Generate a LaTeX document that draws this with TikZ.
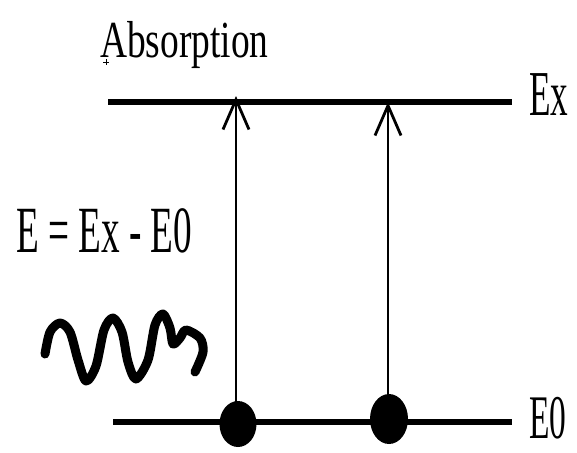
\documentclass[tikz,border=0pt]{standalone}
\usepackage{fontspec}
\setmainfont{Liberation Serif}
\usetikzlibrary{arrows.meta}
\tikzset{
  level/.style={line width=5.5pt},
  trans/.style={line width=2.6pt,-{Straight Barb[length=30pt,width=26pt,line width=2.8pt]}},
  lbl/.style={inner sep=0pt,anchor=base west},
  electron/.style={fill=black}
}
\begin{document}
\begin{tikzpicture}[x=1pt,y=-1pt]
\useasboundingbox[fill=white] (0,0) rectangle (577,452);
% levels
\coordinate (exL) at (108,102);
\coordinate (exR) at (512,102);
\coordinate (e0L) at (113,422);
\coordinate (e0R) at (512,422);
\draw[level] (exL) -- (exR);
\draw[level] (e0L) -- (e0R);
% electrons
\fill[electron] (238,424) ellipse [x radius=18.5pt, y radius=23pt];
\fill[electron] (389,419) ellipse [x radius=19pt, y radius=25pt];
\coordinate (d1) at (236,410);
\coordinate (d2) at (388,405);
\coordinate (t1) at (236,96);
\coordinate (t2) at (388,102);
\draw[trans] (d1) -- (t1);
\draw[trans] (d2) -- (t2);
% labels
\node[lbl] (abs) at (100,57) {\scalebox{0.72}[1]{\fontsize{52}{52}\selectfont Absorption}};
\node[lbl] (ex) at (529,115) {\scalebox{0.55}[1]{\fontsize{64}{64}\selectfont Ex}};
\node[lbl] (e0) at (529,438) {\scalebox{0.54}[1]{\fontsize{62}{62}\selectfont E0}};
\node[lbl] (eq) at (16,252) {\scalebox{0.564}[1]{\fontsize{66}{66}\selectfont E = Ex - E0}};
% cursor mark
\draw[line width=0.8pt] (103,62) -- (109,62) (106,59) -- (106,65);
% photon
\draw[line width=9pt, line cap=round, line join=round]
  plot[smooth, tension=0.5] coordinates {(45,354) (50,332) (60,323) (70,332) (78,360) (86,381) (96,366) (104,330) (113,318) (122,332) (128,362) (136,379) (148,360) (155,325) (163,314) (170,328) (173,344) (180,338) (186,330) (200,338) (203,352) (195,372)};
\end{tikzpicture}
\end{document}
